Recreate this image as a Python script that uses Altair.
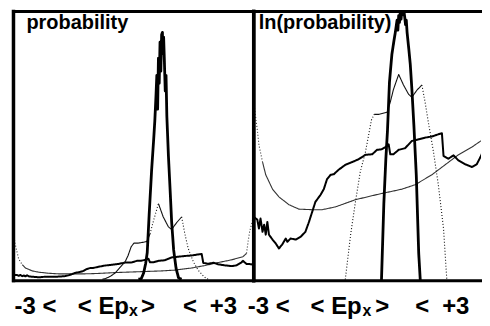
import altair as alt
import pandas as pd

# x positions in units of <Ep_x> (each panel spans -3 .. +3); values are ln(probability)
peak_x = [0.12, 0.19, 0.25, 0.30, 0.34, 0.39, 0.45, 0.50, 0.53, 0.56, 0.58, 0.60, 0.62, 0.64, 0.66, 0.68,
          0.70, 0.72, 0.73, 0.75, 0.77, 0.79, 0.81, 0.83, 0.87, 0.91, 0.95, 1.00, 1.06, 1.12, 1.16, 1.20]
peak_lnp = [-5.3, -5.0, -3.60, -2.80, -2.30, -1.42, -0.92, -0.68, -0.55, -0.40, -0.30, -0.48, -0.22, -0.34, -0.15, -0.28,
            -0.12, -0.11, -0.20, -0.13, -0.24, -0.38, -0.30, -0.52, -0.80, -1.10, -1.55, -2.20, -3.10, -4.50, -5.0, -5.3]

dot_x = [-0.78, -0.71, -0.58, -0.46, -0.34, -0.21, -0.14, -0.06, 0.01, 0.12, 0.33, 0.41, 0.49, 0.62, 0.74, 0.87,
         0.95, 1.08, 1.20, 1.28, 1.36, 1.49, 1.61, 1.74, 1.82, 1.88]
dot_lnp = [-5.3, -4.96, -4.17, -3.58, -3.04, -2.68, -2.41, -2.10, -2.00, -2.00, -1.96, -1.78, -1.55, -1.28, -1.47, -1.64,
           -1.69, -1.56, -1.47, -1.78, -2.14, -2.68, -3.27, -4.06, -4.96, -5.3]

u_x = [-3.00, -2.95, -2.91, -2.87, -2.78, -2.70, -2.53, -2.37, -2.12, -1.87, -1.54, -1.29, -0.96, -0.46, 0.12, 0.70,
       1.03, 1.45, 1.78, 2.11, 2.45, 2.73, 2.82, 2.86, 2.90, 2.95, 3.00]
u_lnp = [-1.78, -2.06, -2.28, -2.55, -2.86, -3.09, -3.35, -3.49, -3.63, -3.71, -3.72, -3.72, -3.67, -3.54, -3.44, -3.35,
         -3.27, -3.09, -2.91, -2.73, -2.59, -2.45, -2.32, -1.96, -1.72, -1.58, -1.45]

m_x = [-3.00, -2.91, -2.87, -2.83, -2.78, -2.74, -2.70, -2.66, -2.62, -2.53, -2.45, -2.37, -2.29, -2.20, -2.16, -2.08,
       -1.95, -1.83, -1.71, -1.62, -1.54, -1.46, -1.33, -1.25, -1.17, -1.08, -1.00, -0.88, -0.71, -0.54, -0.38, -0.21,
       -0.04, 0.08, 0.20, 0.29, 0.37, 0.41, 0.49, 0.62, 0.78, 0.95, 1.12, 1.28, 1.45, 1.61, 1.70, 1.74, 1.86, 1.99,
       2.11, 2.28, 2.45, 2.57, 2.69, 2.73, 2.82, 2.90, 2.98]
m_lnp = [-3.85, -3.90, -4.06, -3.88, -4.12, -3.99, -4.17, -3.94, -4.17, -4.26, -4.33, -4.42, -4.35, -4.24, -4.30, -4.24,
         -4.26, -4.21, -4.12, -3.94, -3.76, -3.58, -3.45, -3.35, -3.17, -3.09, -3.08, -3.00, -2.91, -2.86, -2.81, -2.73,
         -2.72, -2.64, -2.63, -2.59, -2.54, -2.72, -2.72, -2.64, -2.61, -2.48, -2.45, -2.42, -2.40, -2.36, -2.34, -2.75,
         -2.80, -2.74, -2.83, -2.90, -2.95, -2.90, -2.73, -2.64, -2.81, -2.82, -2.85]

titles = ["probability", "ln(probability)"]
axis_pieces = ["-3 <", "< Ep", "x", ">", "<", "+3"]

# ---- styling / layout ----
W_L, W_R, H = 241, 228, 270
FONT = "Liberation Sans"
one = pd.DataFrame({"k": [0]})
dash_scale = alt.Scale(domain=["solid", "dotted"], range=[[1, 0], [1, 2]])


def segmented(xs, ys, dotted):
    rows, seg, cur = [], -1, None
    for i in range(len(xs) - 1):
        mid = (xs[i] + xs[i + 1]) / 2
        st = "dotted" if any(a <= mid <= b for a, b in dotted) else "solid"
        if st != cur:
            seg += 1
            cur = st
            rows.append(dict(x=xs[i], lnp=ys[i], seg=seg, dash=st))
        rows.append(dict(x=xs[i + 1], lnp=ys[i + 1], seg=seg, dash=st))
    return pd.DataFrame(rows)


def curve(df, xscale, yfield, yscale, width, color):
    return alt.Chart(df).transform_calculate(p="exp(datum.lnp)").mark_line(
        clip=True, strokeWidth=width, color=color, strokeJoin="round"
    ).encode(
        x=alt.X("x:Q", scale=xscale, axis=None),
        y=alt.Y(yfield + ":Q", scale=yscale, axis=None),
        detail="seg:N",
        strokeDash=alt.StrokeDash("dash:N", scale=dash_scale, legend=None),
    )


def rule(sw=3, **enc):
    return alt.Chart(one).mark_rule(color="black", strokeWidth=sw, strokeCap="square").encode(**enc)


def text(t, x, y, size):
    return alt.Chart(one).mark_text(
        text=t, align="left", baseline="alphabetic", font=FONT, fontSize=size,
        fontWeight="bold", color="black"
    ).encode(x=alt.value(x), y=alt.value(y))


def axis_label(xs):
    sizes = [24, 24, 16, 24, 24, 24]
    ys = [303.25, 303.25, 305.75, 303.25, 303.25, 303.25]
    return [text(t, x, y, s) for t, x, y, s in zip(axis_pieces, xs, ys, sizes)]


def panel(xscale, yfield, yscale, width, dot_dotted, title_x, title, label_xs, right_border):
    layers = [
        curve(segmented(u_x, u_lnp, [(-3.0, -2.8), (2.8, 3.0)]), xscale, yfield, yscale, 1.1, "#333333"),
        curve(segmented(m_x, m_lnp, []), xscale, yfield, yscale, 2.0, "black"),
        curve(segmented(dot_x, dot_lnp, dot_dotted), xscale, yfield, yscale, 1.1, "#111111"),
        curve(segmented(peak_x, peak_lnp, []), xscale, yfield, yscale, 2.8, "black"),
        rule(x=alt.value(0), x2=alt.value(width), y=alt.value(0)),
        rule(x=alt.value(0), x2=alt.value(width), y=alt.value(H)),
        rule(sw=3.5, x=alt.value(0), y=alt.value(0), y2=alt.value(H)),
        text(title, title_x, 17.25, 20),
    ]
    if right_border:
        layers.append(rule(sw=3.5, x=alt.value(width), y=alt.value(0), y2=alt.value(H)))
    layers += axis_label(label_xs)
    return alt.layer(*layers).properties(width=width, height=H)


left = panel(
    alt.Scale(domain=[-3, 3], nice=False, zero=False), "p",
    alt.Scale(domain=[0, 0.971], nice=False, zero=False), W_L,
    [(0.41, 0.62), (1.20, 1.9)], 13, titles[0], [1, 64.5, 116, 128, 170, 197], True,
)
right = panel(
    alt.Scale(domain=[-3, 2.676], nice=False, zero=False), "lnp",
    alt.Scale(domain=[-5, -0.144], nice=False, zero=False), W_R,
    [(-0.8, 0.01), (1.20, 1.9)], 5, titles[1], [-6, 57, 109, 122, 162, 189], False,
)

chart = alt.hconcat(left, right, spacing=0, bounds="flush").properties(
    padding={"left": 2.5, "top": 0, "right": -2, "bottom": -0.5}
).configure_view(stroke=None)

chart.save("out.html", embed_options={"renderer": "svg", "actions": False})
